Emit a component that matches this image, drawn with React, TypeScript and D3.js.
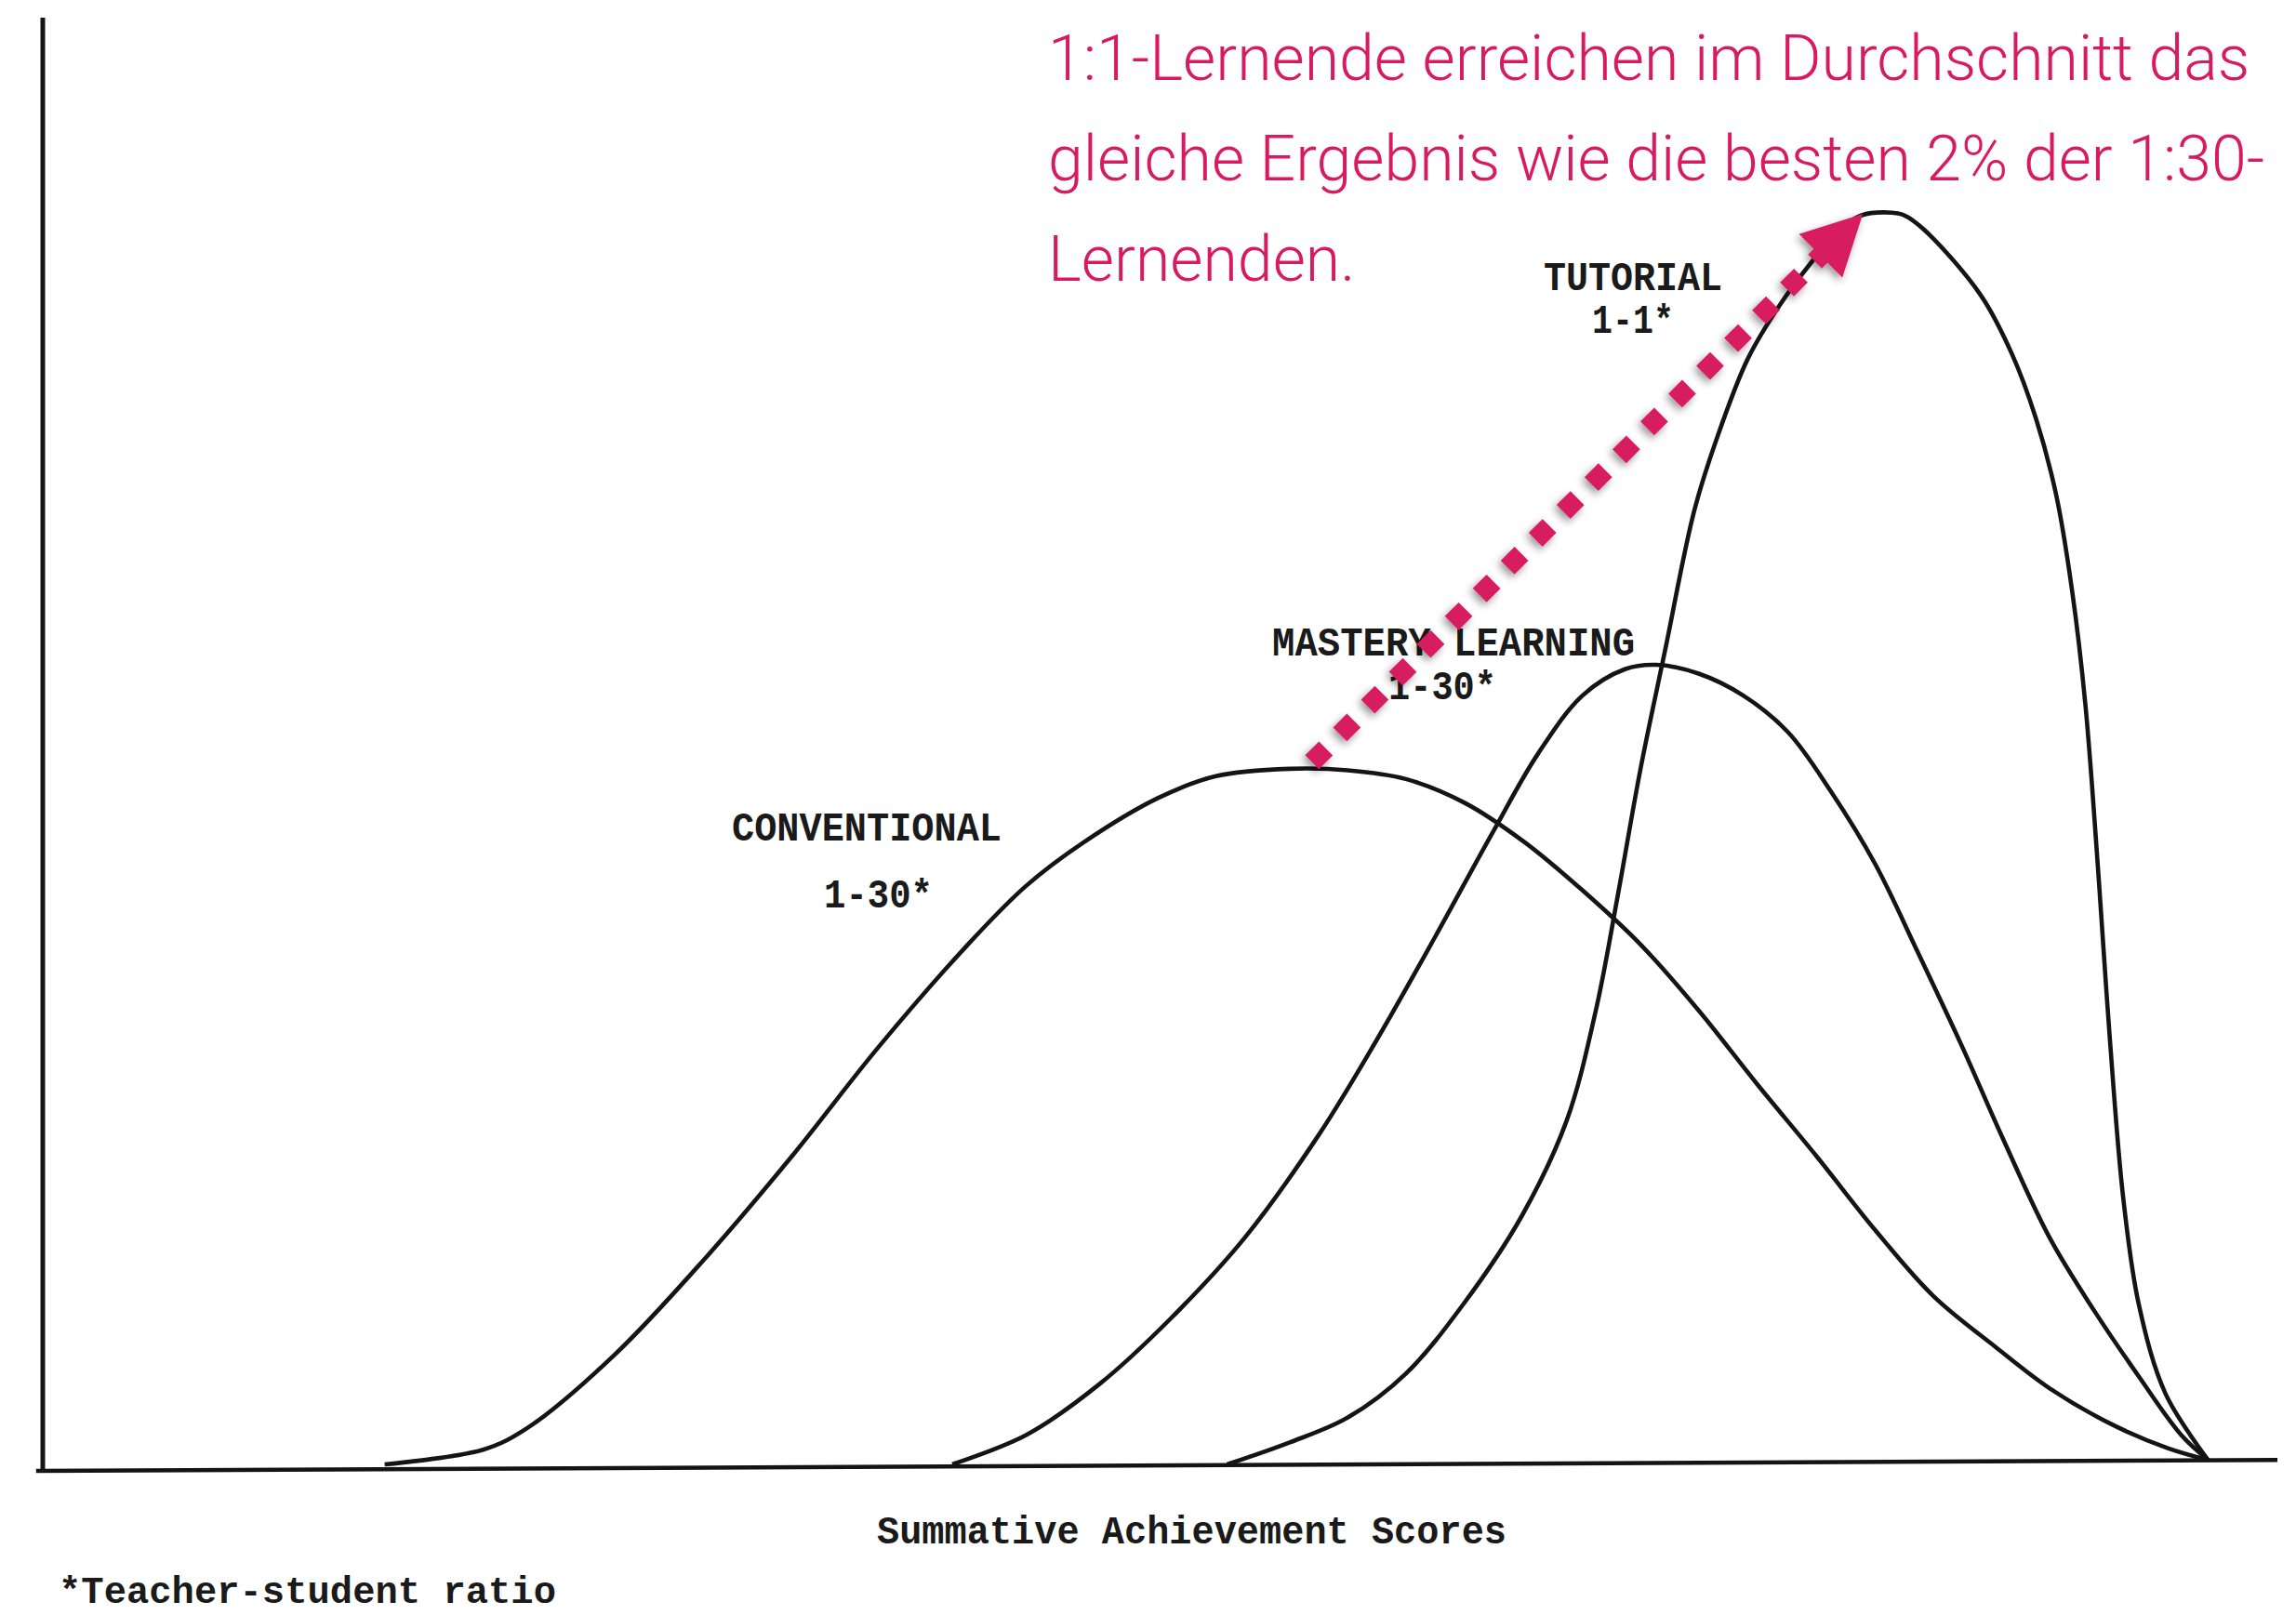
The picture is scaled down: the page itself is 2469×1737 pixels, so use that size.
import React from 'react';
import * as d3 from 'd3';

const W = 2469;
const H = 1737;

// Curves: [summative achievement score (0-100), relative frequency (0-100)]
const conventional: [number, number][] = [
  [15.3, 0], [19.7, 1.0], [21.7, 2.5], [25.6, 7.5], [29.6, 14.0], [33.5, 21.0], [37.4, 28.5],
  [41.4, 35.5], [44.0, 39.5], [46.6, 42.5], [49.9, 45.5], [52.5, 47.0], [55.8, 47.5],
  [58.4, 47.4], [61.0, 46.8], [63.6, 45.2], [66.3, 42.5], [68.9, 39.2], [71.5, 35.5],
  [74.1, 31.0], [76.7, 26.0], [79.4, 21.0], [82.0, 16.0], [84.6, 11.5], [87.4, 8.0],
  [89.8, 5.2], [92.5, 2.8], [95.1, 1.1], [96.9, 0.3]
];

const mastery: [number, number][] = [
  [40.7, 0], [44.0, 2.0], [47.3, 5.5], [50.5, 10.0], [53.8, 15.5], [57.1, 22.5], [59.7, 29.0],
  [62.3, 36.0], [64.9, 43.2], [66.9, 48.5], [68.9, 52.5], [70.8, 54.3], [72.2, 54.6],
  [74.1, 54.0], [76.1, 52.5], [78.1, 50.0], [80.0, 46.0], [82.0, 41.0], [83.9, 35.0],
  [85.9, 28.5], [87.7, 22.3], [89.8, 15.5], [91.8, 10.5], [93.8, 6.0], [95.7, 2.0], [96.9, 0.3]
];

const tutorial: [number, number][] = [
  [53.0, 0], [55.8, 1.5], [58.4, 3.2], [61.0, 6.2], [63.6, 11.0], [66.2, 17.0], [68.2, 23.5],
  [69.5, 31.0], [70.5, 39.0], [71.5, 47.5], [72.6, 55.6], [73.9, 65.1], [74.9, 70.0],
  [76.3, 75.5], [77.7, 79.1], [79.1, 82.0], [80.4, 84.3], [81.4, 85.3], [82.4, 85.5],
  [83.3, 85.3], [84.2, 84.3], [86.7, 79.9], [88.1, 75.9], [89.2, 71.4], [90.1, 66.2],
  [90.8, 59.8], [91.4, 52.0], [92.0, 40.1], [92.5, 29.1], [93.1, 18.2], [93.8, 10.9],
  [95.0, 4.8], [96.9, 0.3]
];

const groupNames = ['CONVENTIONAL', 'MASTERY LEARNING', 'TUTORIAL'];
const groupRatios = ['1-30*', '1-30*', '1-1*'];

const annotationLines = [
  '1:1-Lernende erreichen im Durchschnitt das',
  'gleiche Ergebnis wie die besten 2% der 1:30-',
  'Lernenden.'
];
// arrow from the conventional peak to the tutorial peak, in data units
const arrowFrom: [number, number] = [56.8, 47.95];
const arrowTo: [number, number] = [81.45, 85.4];

const xAxisTitle = 'Summative Achievement Scores';
const footnote = '*Teacher-student ratio';

const PINK = '#D81B60';
const INK = '#141414';

export default function App() {
  const x = d3.scaleLinear().domain([0, 100]).range([46, 2449]);
  const y = d3.scaleLinear().domain([0, 100]).range([1575, 0]);

  const line = d3
    .line<[number, number]>()
    .x((d) => x(d[0]))
    .y((d) => y(d[1]))
    .curve(d3.curveCatmullRom.alpha(0.5));

  // arrow geometry in pixels
  const tx = x(arrowTo[0]);
  const ty = y(arrowTo[1]);
  const sx = x(arrowFrom[0]);
  const sy = y(arrowFrom[1]);
  const ang = Math.atan2(ty - sy, tx - sx);
  const headLen = 64;
  const headHalf = 33;
  const bx = tx - headLen * Math.cos(ang);
  const by = ty - headLen * Math.sin(ang);
  const px = -Math.sin(ang);
  const py = Math.cos(ang);
  const head = [
    [tx, ty],
    [bx + headHalf * px, by + headHalf * py],
    [bx - headHalf * px, by - headHalf * py]
  ];
  const lineEndX = bx + 6 * Math.cos(ang);
  const lineEndY = by + 6 * Math.sin(ang);

  const mono = "'Liberation Mono', 'Courier New', monospace";

  const labelPos = [
    { nx: 787, ny: 904, nw: 290, rx: 886, ry: 976, rw: 117 },
    { nx: 1368, ny: 705, nw: 390, rx: 1493, ry: 752, rw: 116 },
    { nx: 1660, ny: 312, nw: 192, rx: 1712, ry: 358, rw: 88 }
  ];

  return (
    <svg
      width={W}
      height={H}
      viewBox={`0 0 ${W} ${H}`}
      style={{ position: 'absolute', left: 0, top: 0, background: '#fff' }}
    >
      <defs>
        <filter id="shadow" x="-50%" y="-50%" width="200%" height="200%">
          <feDropShadow dx={-3} dy={4} stdDeviation={4} floodColor="#000" floodOpacity={0.4} />
        </filter>
      </defs>
      <rect x={0} y={0} width={W} height={H} fill="#fff" />

      {/* axes */}
      <line x1={x(0)} y1={y(-0.45)} x2={x(0)} y2={y(98.8)} stroke={INK} strokeWidth={5} />
      <line x1={x(-0.3)} y1={y(-0.45)} x2={x(100)} y2={y(0.3)} stroke={INK} strokeWidth={4.5} />

      {/* curves */}
      {[conventional, mastery, tutorial].map((s, i) => (
        <path key={i} d={line(s) || ''} fill="none" stroke={INK} strokeWidth={4.6} strokeLinejoin="round" />
      ))}

      {/* curve labels */}
      {groupNames.map((n, i) => (
        <g key={n} fontFamily={mono} fontWeight="bold" fill="#1a1a1a">
          <text x={labelPos[i].nx} y={labelPos[i].ny} fontSize={44} textLength={labelPos[i].nw} lengthAdjust="spacingAndGlyphs">
            {n}
          </text>
          <text x={labelPos[i].rx} y={labelPos[i].ry} fontSize={44} textLength={labelPos[i].rw} lengthAdjust="spacingAndGlyphs">
            {groupRatios[i]}
          </text>
        </g>
      ))}

      {/* axis title + footnote */}
      <text x={943} y={1660} fontFamily={mono} fontWeight="bold" fontSize={42} fill="#1a1a1a" textLength={677} lengthAdjust="spacingAndGlyphs">
        {xAxisTitle}
      </text>
      <text x={63} y={1724} fontFamily={mono} fontWeight="bold" fontSize={40} fill="#1a1a1a" textLength={535} lengthAdjust="spacingAndGlyphs">
        {footnote}
      </text>

      {/* arrow */}
      <g filter="url(#shadow)">
        <line
          x1={sx}
          y1={sy}
          x2={lineEndX}
          y2={lineEndY}
          stroke={PINK}
          strokeWidth={21}
          strokeDasharray="21 21.4"
        />
        <polygon points={head.map((p) => p.join(',')).join(' ')} fill={PINK} />
      </g>

      {/* annotation */}
      {annotationLines.map((t, i) => (
        <text
          key={i}
          x={1127}
          y={86 + i * 108}
          fontFamily="Roboto, 'Noto Sans', sans-serif"
          fontWeight={300}
          fontSize={68}
          fill={PINK}
        >
          {t}
        </text>
      ))}
    </svg>
  );
}
